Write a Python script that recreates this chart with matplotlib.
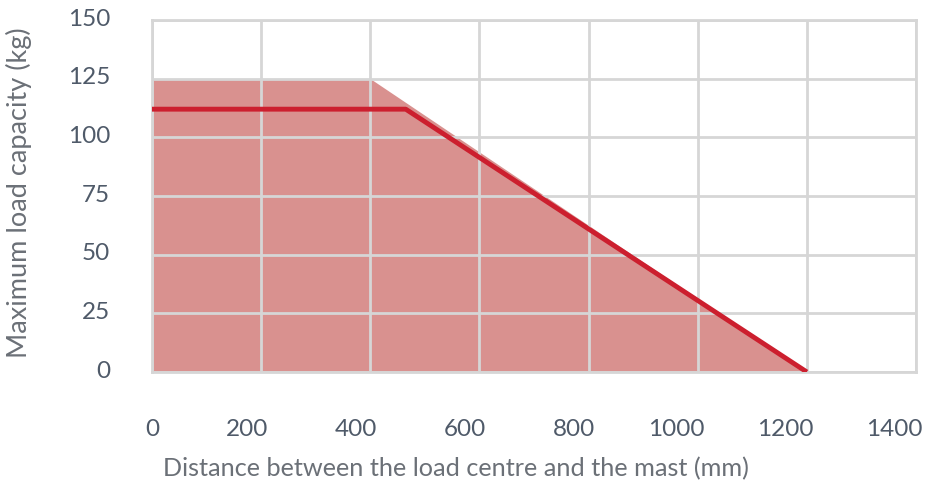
import matplotlib
matplotlib.use("Agg")
import matplotlib.pyplot as plt
import matplotlib.transforms as mtransforms

# Data
fill_x = [0, 400, 1200]
fill_y = [125, 125, 0]
line_x = [0, 465, 1200]
line_y = [112, 112, 0]
x_ticks = [0, 200, 400, 600, 800, 1000, 1200, 1400]
y_ticks = [0, 25, 50, 75, 100, 125, 150]
x_label = "Distance between the load centre and the mast (mm)"
y_label = "Maximum load capacity (kg)"

plt.rcParams['font.family'] = ['Lato', 'DejaVu Sans']

W, H = 928, 483
fig = plt.figure(figsize=(W/100, H/100), dpi=100)
ax = fig.add_axes([152/W, 1-372/H, (916-152)/W, (372-20)/H])

ax.fill_between(fill_x, fill_y, 0, color='#d9918f', linewidth=0, zorder=1)
ax.plot(line_x, line_y, color='#cc1f2e', linewidth=3.5, solid_capstyle='butt', zorder=3)

ax.set_xlim(0, 1400)
ax.set_ylim(0, 150)
ax.set_xticks(x_ticks)
ax.set_yticks(y_ticks)
ax.grid(True, color='#d6d6d6', linewidth=2, zorder=2)
ax.set_axisbelow(False)
for s in ax.spines.values():
    s.set_color('#d6d6d6')
    s.set_linewidth(2)
    s.set_zorder(2)

ax.tick_params(axis='both', length=0, labelsize=17.5, labelcolor='#4f5a69')
ax.tick_params(axis='x', pad=34)
ax.tick_params(axis='y', pad=30)
for lab in ax.get_xticklabels():
    lab.set_ha('right')
    lab.set_transform(lab.get_transform() + mtransforms.ScaledTranslation(7/100, 0, fig.dpi_scale_trans))
for lab in ax.get_yticklabels():
    lab.set_transform(lab.get_transform() + mtransforms.ScaledTranslation(0, 3/100, fig.dpi_scale_trans))

fig.text(456/W, 1-476/H, x_label, fontsize=18.2, color='#6b7077', ha='center', va='baseline')
fig.text(19/W, 1-193/H, y_label, fontsize=19.5, color='#6b7077', ha='center', va='center', rotation=90)

fig.savefig('out.png', dpi=100)
